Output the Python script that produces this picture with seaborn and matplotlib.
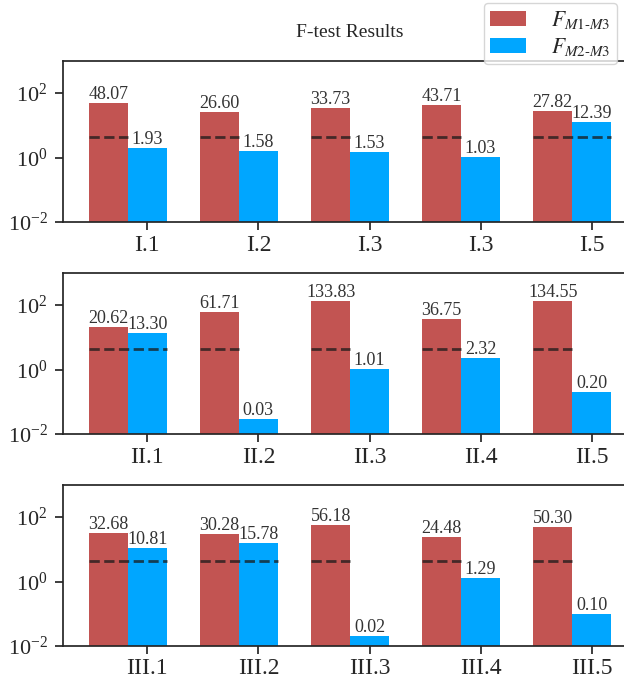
import numpy as np
import pandas as pd
import seaborn as sns
import matplotlib.pyplot as plt
from matplotlib.ticker import NullLocator

# ---- data ----
cases_1 = ['I.1', 'I.2', 'I.3', 'I.3', 'I.5']
f_m1_m3_1 = [48.07, 26.60, 33.73, 43.71, 27.82]
f_m2_m3_1 = [1.93, 1.58, 1.53, 1.03, 12.39]

cases_2 = ['II.1', 'II.2', 'II.3', 'II.4', 'II.5']
f_m1_m3_2 = [20.62, 61.71, 133.83, 36.75, 134.55]
f_m2_m3_2 = [13.30, 0.03, 1.01, 2.32, 0.20]

cases_3 = ['III.1', 'III.2', 'III.3', 'III.4', 'III.5']
f_m1_m3_3 = [32.68, 30.28, 56.18, 24.48, 50.30]
f_m2_m3_3 = [10.81, 15.78, 0.02, 1.29, 0.10]

F_CRIT = 4.4

labels = [r'$F_{M1\text{-}M3}$', r'$F_{M2\text{-}M3}$']
colors = ['#c25452', '#00a6ff']

panels = [(cases_1, f_m1_m3_1, f_m2_m3_1),
          (cases_2, f_m1_m3_2, f_m2_m3_2),
          (cases_3, f_m1_m3_3, f_m2_m3_3)]

sns.set_theme(style='ticks')
plt.rcParams['font.family'] = ['Liberation Serif', 'DejaVu Serif']
plt.rcParams['mathtext.fontset'] = 'stix'

fig, axes = plt.subplots(3, 1, figsize=(6.24, 6.92), dpi=100)
fig.subplots_adjust(left=0.101, right=1.021, top=0.912, bottom=0.0665, hspace=0.315)

W = 0.7  # total group width -> each bar 0.35

for ax, (cases, f1, f2) in zip(axes, panels):
    n = len(cases)
    df = pd.DataFrame({
        'pos': list(range(n)) * 2,
        'F': f1 + f2,
        'test': [labels[0]] * n + [labels[1]] * n,
    })
    sns.barplot(data=df, x='pos', y='F', hue='test', hue_order=labels,
                order=list(range(n)), palette=colors, width=W,
                saturation=1, errorbar=None, linewidth=0, ax=ax)
    ax.set_yscale('log')

    for cont in ax.containers:
        ax.bar_label(cont, fmt='%.2f', padding=0, fontsize=13, color='.2')

    # critical value line, only drawn over bars that exceed it
    for i in range(n):
        x0 = i - W / 2 if f1[i] > F_CRIT else i
        x1 = i + W / 2 if f2[i] > F_CRIT else i
        if x1 > x0:
            ax.hlines(F_CRIT, x0, x1, colors='k', linestyles='--',
                      linewidth=2, alpha=0.75, zorder=3)

    ax.set_ylim(1e-2, 1e3)
    ax.set_yticks([1e-2, 1, 1e2])
    ax.yaxis.set_minor_locator(NullLocator())
    ax.set_xlim(-0.584, n - 1 + 0.584)
    ax.set_xticks(np.arange(n) + W / 4)
    ax.set_xticklabels(cases)
    ax.set_xlabel('')
    ax.set_ylabel('')
    ax.tick_params(axis='both', length=6, width=1.25)
    ax.tick_params(axis='y', labelsize=16, pad=5)
    ax.tick_params(axis='x', labelsize=17, pad=3)
    for sp in ax.spines.values():
        sp.set_linewidth(1.25)
    ax.get_legend().remove()

axes[0].set_title('F-test Results', fontsize=14, pad=17)
h, l = axes[0].get_legend_handles_labels()
fig.legend(h, l, loc='upper left', bbox_to_anchor=(484 / 624, 1 - 3 / 692),
           fontsize=15.5, handletextpad=1.2, handlelength=1.63,
           labelspacing=0.2, borderpad=0.3, borderaxespad=0)

fig.savefig('out.png', dpi=100)
